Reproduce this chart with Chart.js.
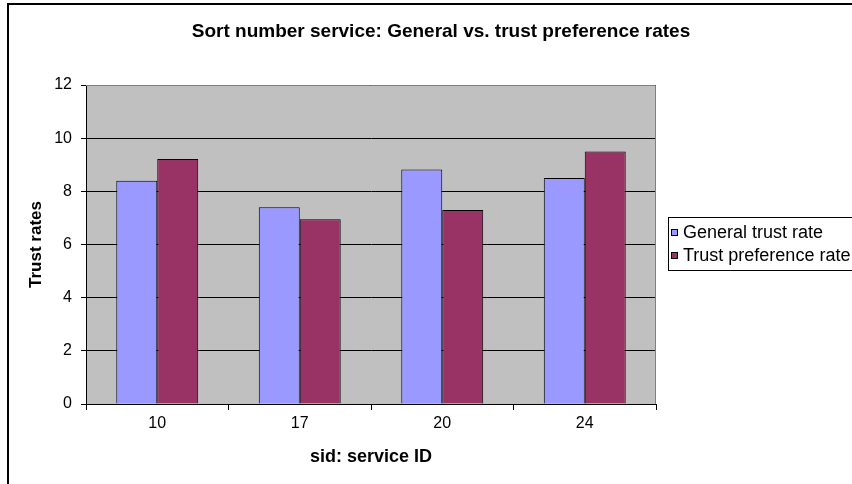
<!DOCTYPE html>
<html>
<head>
<meta charset="utf-8">
<script src="https://cdn.jsdelivr.net/npm/chart.js@4.4.1/dist/chart.umd.min.js"></script>
<style>
  html, body { margin: 0; padding: 0; background: #ffffff; }
  #wrap { width: 852px; height: 484px; position: relative; }
</style>
</head>
<body>
<div id="wrap"><canvas id="c" width="852" height="484"></canvas></div>
<script>
const chartTitle = "Sort number service: General vs. trust preference rates";
const categories = ["10", "17", "20", "24"];
const generalTrustRate = [8.4, 7.4, 8.82, 8.5];
const trustPreferenceRate = [9.22, 6.95, 7.3, 9.5];
const seriesNames = ["General trust rate", "Trust preference rate"];
const yTicks = [0, 2, 4, 6, 8, 10, 12];
const xAxisTitle = "sid: service ID";
const yAxisTitle = "Trust rates";

const FONT = "Arial, 'Liberation Sans', sans-serif";

const framePlugin = {
  id: 'frame',
  beforeDraw(chart) {
    const { ctx, chartArea: a } = chart;
    ctx.save();
    ctx.fillStyle = '#ffffff';
    ctx.fillRect(0, 0, chart.width, chart.height);
    ctx.fillStyle = '#C0C0C0';
    ctx.fillRect(a.left, a.top, a.right - a.left, a.bottom - a.top);
    ctx.restore();
  },
  afterDraw(chart) {
    const { ctx, chartArea: a } = chart;
    ctx.save();
    // plot-area border (top and right, gray)
    ctx.strokeStyle = '#808080';
    ctx.lineWidth = 1;
    ctx.beginPath();
    ctx.moveTo(a.left, a.top + 0.5);
    ctx.lineTo(a.right - 0.5, a.top + 0.5);
    ctx.lineTo(a.right - 0.5, a.bottom);
    ctx.stroke();
    // outer chart border (left and top)
    ctx.strokeStyle = '#000000';
    ctx.lineWidth = 2;
    ctx.beginPath();
    ctx.moveTo(8, chart.height + 2);
    ctx.lineTo(8, 4);
    ctx.lineTo(chart.width + 2, 4);
    ctx.stroke();
    // title
    ctx.fillStyle = '#000000';
    ctx.font = "bold 19px " + FONT;
    ctx.textAlign = 'center';
    ctx.textBaseline = 'middle';
    ctx.fillText(chartTitle, 441, 32);
    // legend
    ctx.lineWidth = 1;
    ctx.strokeStyle = '#000000';
    ctx.strokeRect(668.5, 217.5, 200, 53);
    ctx.font = "18px " + FONT;
    ctx.textAlign = 'left';
    chart.data.datasets.forEach((ds, i) => {
      const cy = 233 + i * 23;
      ctx.fillStyle = ds.backgroundColor;
      ctx.fillRect(671, cy - 4, 7, 7);
      ctx.strokeRect(671.5, cy - 3.5, 6, 6);
      ctx.fillStyle = '#000000';
      ctx.fillText(ds.label, 683, cy);
    });
    ctx.restore();
  }
};

new Chart(document.getElementById('c'), {
  type: 'bar',
  data: {
    labels: categories,
    datasets: [
      { label: seriesNames[0], data: generalTrustRate, backgroundColor: '#9999FF', borderColor: '#000000', borderWidth: 1, borderSkipped: 'bottom' },
      { label: seriesNames[1], data: trustPreferenceRate, backgroundColor: '#993366', borderColor: '#000000', borderWidth: 1, borderSkipped: 'bottom' }
    ]
  },
  options: {
    responsive: false,
    animation: false,
    devicePixelRatio: 1,
    layout: { padding: { left: 0, right: 196, top: 85, bottom: 0 } },
    datasets: { bar: { categoryPercentage: 0.575, barPercentage: 1.0 } },
    plugins: {
      legend: { display: false },
      title: { display: false },
      tooltip: { enabled: false }
    },
    scales: {
      x: {
        afterFit(s) { s.height = 80; },
        grid: { offset: true, drawOnChartArea: false, color: '#000000', tickLength: 6, lineWidth: 1 },
        border: { color: '#000000', width: 1 },
        ticks: { color: '#000000', font: { family: FONT, size: 16 }, padding: 4 },
        title: { display: true, text: xAxisTitle, color: '#000000', font: { family: FONT, size: 18, weight: 'bold' }, padding: { top: 0, bottom: 16 } }
      },
      y: {
        min: 0, max: 12,
        afterFit(s) { s.width = 86; },
        afterBuildTicks(s) { s.ticks = yTicks.map(v => ({ value: v })); },
        grid: { color: '#000000', tickLength: 5, lineWidth: 1 },
        border: { color: '#000000', width: 1 },
        ticks: { color: '#000000', font: { family: FONT, size: 16 }, padding: 9 },
        title: { display: true, text: yAxisTitle, color: '#000000', font: { family: FONT, size: 17, weight: 'bold' }, padding: { top: 26, bottom: 0 } }
      }
    }
  },
  plugins: [framePlugin]
});
</script>
</body>
</html>
